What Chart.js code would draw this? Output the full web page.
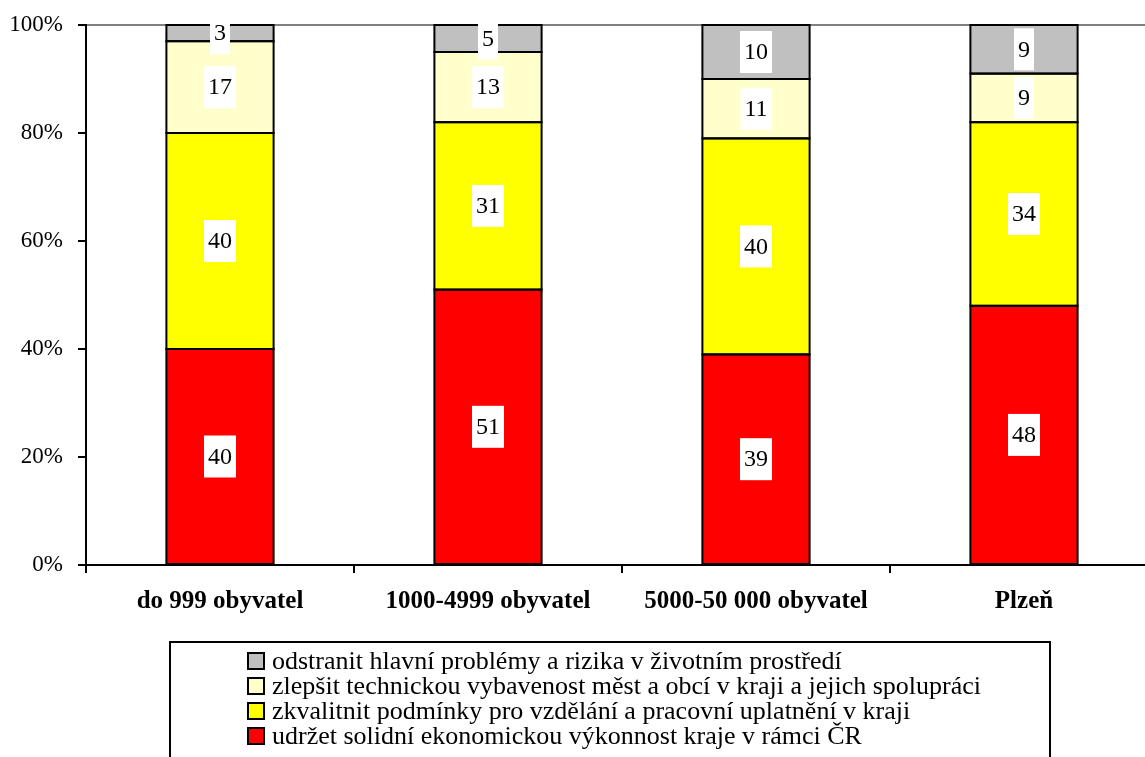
<!DOCTYPE html>
<html lang="cs">
<head>
  <meta charset="UTF-8">
  <title>Priority kraje</title>
  <script src="https://cdn.jsdelivr.net/npm/chart.js"></script>
  <style>
    body, html {
      margin: 0;
      background: #fff;
      overflow: hidden;
    }
    .chart-box {
      width: 1160px;
      height: 757px;
    }
  </style>
</head>
<body>
  <div class="chart-box">
    <canvas id="chart"></canvas>
  </div>

  <script>
    const categories = ['do 999 obyvatel', '1000-4999 obyvatel', '5000-50 000 obyvatel', 'Plzeň'];

    const seriesNames = [
      'udržet solidní ekonomickou výkonnost kraje v rámci ČR',
      'zkvalitnit podmínky pro vzdělání a pracovní uplatnění v kraji',
      'zlepšit technickou vybavenost měst a obcí v kraji a jejich spolupráci',
      'odstranit hlavní problémy a rizika v životním prostředí'
    ];

    const ekonomika = [40, 51, 39, 48];
    const vzdelani = [40, 31, 40, 34];
    const vybavenost = [17, 13, 11, 9];
    const prostredi = [3, 5, 10, 9];

    const colors = ['#FF0000', '#FFFF00', '#FFFFCC', '#C0C0C0'];

    const serif = '"Liberation Serif", "Times New Roman", serif';

    // black outline on every segment, then white boxes with the value
    const valueLabels = {
      id: 'valueLabels',
      afterDatasetsDraw(chart) {
        const ctx = chart.ctx;
        ctx.save();
        ctx.lineWidth = 2;
        ctx.strokeStyle = '#000';
        chart.data.datasets.forEach((ds, i) => {
          chart.getDatasetMeta(i).data.forEach(bar => {
            const top = Math.min(bar.y, bar.base);
            const h = Math.abs(bar.base - bar.y);
            ctx.strokeRect(bar.x - bar.width / 2, top, bar.width, h);
          });
        });
        ctx.font = '24px ' + serif;
        ctx.textAlign = 'center';
        ctx.textBaseline = 'middle';
        chart.data.datasets.forEach((ds, i) => {
          chart.getDatasetMeta(i).data.forEach((bar, j) => {
            const text = String(ds.data[j]);
            const cy = (bar.y + bar.base) / 2;
            const w = ctx.measureText(text).width + 8;
            const h = 42;
            ctx.fillStyle = '#fff';
            ctx.fillRect(bar.x - w / 2, cy - h / 2, w, h);
            ctx.fillStyle = '#000';
            ctx.fillText(text, bar.x, cy + 1);
          });
        });
        ctx.restore();
      }
    };

    // framed legend under the axis, reversed order
    const boxLegend = {
      id: 'boxLegend',
      afterDraw(chart) {
        const ctx = chart.ctx;
        ctx.save();
        ctx.lineWidth = 2;
        ctx.strokeStyle = '#000';
        ctx.strokeRect(170, 642, 880, 140);
        ctx.font = '26px ' + serif;
        ctx.textBaseline = 'middle';
        ctx.textAlign = 'left';
        const ds = chart.data.datasets.slice().reverse();
        ds.forEach((d, k) => {
          const y = 661 + k * 25;
          ctx.fillStyle = d.backgroundColor;
          ctx.fillRect(248, y - 8, 16, 16);
          ctx.strokeRect(248, y - 8, 16, 16);
          ctx.fillStyle = '#000';
          ctx.fillText(d.label, 272, y + 1);
        });
        ctx.restore();
      }
    };

    const datasets = [ekonomika, vzdelani, vybavenost, prostredi].map((vals, i) => ({
      label: seriesNames[i],
      data: vals,
      backgroundColor: colors[i],
      borderWidth: 0,
      barPercentage: 1,
      categoryPercentage: 0.4
    }));

    new Chart(document.getElementById('chart'), {
      type: 'bar',
      data: { labels: categories, datasets: datasets },
      options: {
        responsive: true,
        maintainAspectRatio: false,
        animation: false,
        layout: { padding: { top: 25, right: 2, bottom: 0, left: 0 } },
        plugins: {
          legend: { display: false },
          tooltip: { enabled: false }
        },
        scales: {
          x: {
            stacked: true,
            grid: {
              offset: true,
              drawOnChartArea: false,
              tickLength: 8,
              tickColor: '#000',
              lineWidth: 2
            },
            border: { color: '#000', width: 2 },
            ticks: {
              color: '#000',
              padding: 14,
              maxRotation: 0,
              font: { family: serif, size: 25, weight: 'bold' }
            },
            afterFit(scale) {
              scale.height = 192;
              scale.paddingLeft = 0;
              scale.paddingRight = 0;
            }
          },
          y: {
            stacked: true,
            min: 0,
            max: 100,
            grid: {
              color: c => c.tick && c.tick.value === 100 ? '#808080' : 'rgba(0,0,0,0)',
              tickColor: '#000',
              tickLength: 8,
              lineWidth: 2
            },
            border: { color: '#000', width: 2 },
            ticks: {
              stepSize: 20,
              color: '#000',
              padding: 15,
              font: { family: serif, size: 23 },
              callback: v => v + '%'
            },
            afterFit(scale) {
              scale.width = 86;
              scale.paddingTop = 0;
              scale.paddingBottom = 0;
            }
          }
        }
      },
      plugins: [valueLabels, boxLegend]
    });
  </script>
</body>
</html>
